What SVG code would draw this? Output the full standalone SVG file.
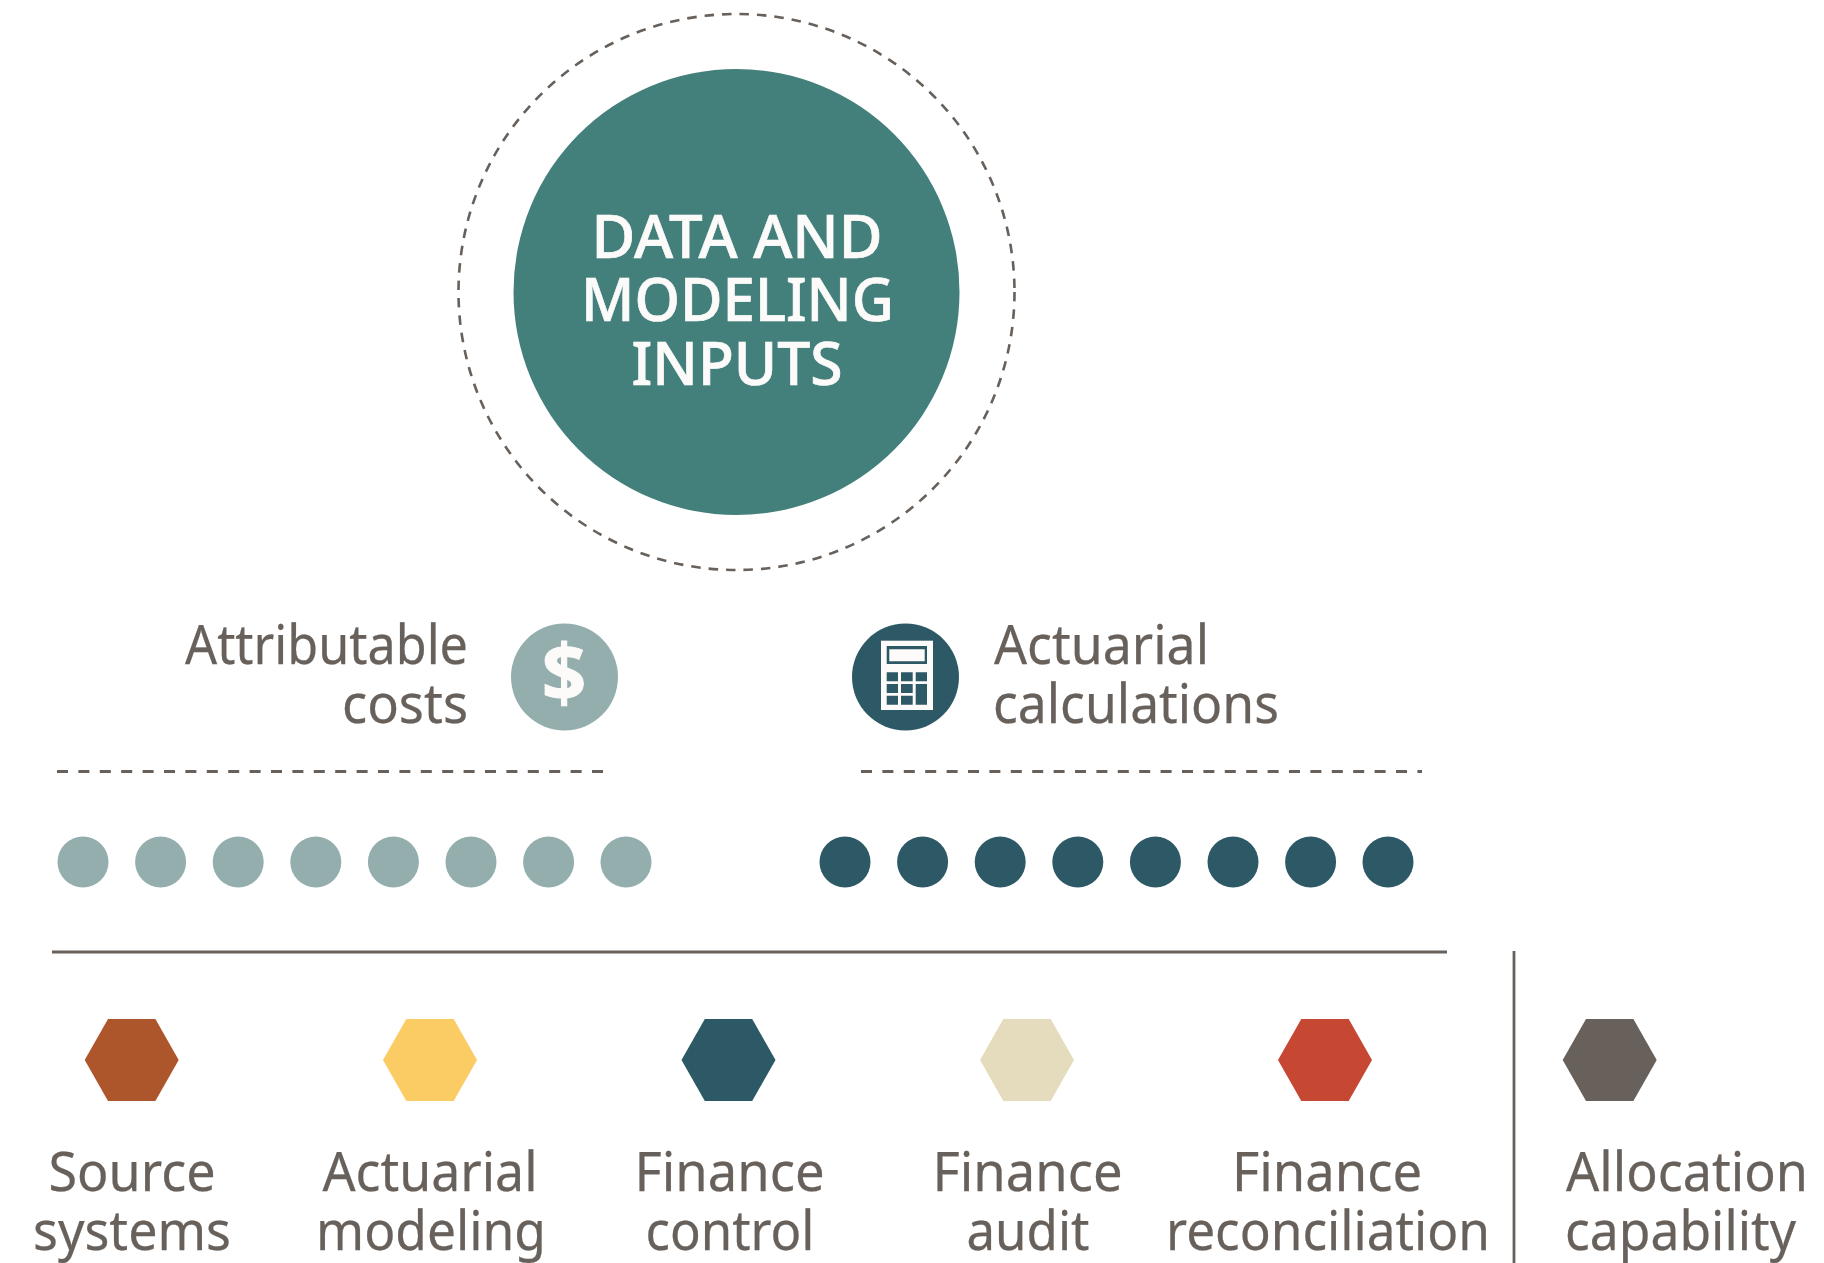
<svg xmlns="http://www.w3.org/2000/svg" width="1824" height="1263" viewBox="0 0 1824 1263">
<style>
text{font-family:"Noto Sans","Open Sans",sans-serif}
.l{font-size:54px;fill:#67605b;stroke:#67605b;stroke-width:.25}
.m{text-anchor:middle}
.e{text-anchor:end}
.t{font-size:60px;fill:#fcfbfa;stroke:#fcfbfa;stroke-width:.7;text-anchor:middle;font-weight:500}
.a{fill:#94aeae}
.b{fill:#2d5967}
.k{fill:#2d5967}
.d{fill:none;stroke:#67605b;stroke-width:3;stroke-dasharray:11 10.4}
.s{fill:none;stroke:#67605b;stroke-width:2.8}
</style>
<rect width="1824" height="1263" fill="#fff"/>
<g id="connectors">
<line class="d" x1="57" y1="771.5" x2="604" y2="771.5"/>
<line class="d" x1="861" y1="771.5" x2="1422" y2="771.5"/>
<line class="s" x1="52" y1="952" x2="1447" y2="952"/>
<line class="s" x1="1514" y1="951" x2="1514" y2="1263"/>
</g>
<g id="main">
<circle cx="736.5" cy="292" r="278" fill="none" stroke="#67605b" stroke-width="2.6" stroke-dasharray="9.5 8"/>
<circle cx="736.5" cy="292" r="223" fill="#43807c"/>
<text class="t" x="737" y="257.5" textLength="291" lengthAdjust="spacingAndGlyphs">DATA AND</text>
<text class="t" x="737.5" y="321" textLength="313" lengthAdjust="spacingAndGlyphs">MODELING</text>
<text class="t" x="737" y="385" textLength="211" lengthAdjust="spacingAndGlyphs">INPUTS</text>
</g>
<g id="attributable-costs">
<text class="l e" x="468" y="664" textLength="283" lengthAdjust="spacingAndGlyphs">Attributable</text>
<text class="l e" x="468" y="723" textLength="126" lengthAdjust="spacingAndGlyphs">costs</text>
<circle class="a" cx="564.5" cy="677" r="53.5"/>
<text x="564" y="701" font-size="78" font-weight="700" stroke="#fcfbfa" stroke-width="1" text-anchor="middle" fill="#fcfbfa" style="font-family:'Open Sans',sans-serif">$</text>
</g>
<g id="actuarial-calculations">
<circle class="b" cx="905.5" cy="677" r="53.5"/>
<rect x="881" y="640.7" width="52" height="69.3" fill="#fcfbfa"/>
<path class="k" fill-rule="evenodd" d="M886.7 646H927V664H886.7ZM889.3 649.3V661.3H924.7V649.3Z"/>
<path class="k" d="M886.7 672.3h11.3v9h-11.3zM901 672.3h11.7v9H901zM915.7 672.3H927v9h-11.3zM886.7 684h11.3v9h-11.3zM901 684h11.7v9H901zM915.7 684H927v20.7h-11.3zM886.7 695.7h11.3v9h-11.3zM901 695.7h11.7v9H901z"/>
<text class="l" x="994" y="664" textLength="215" lengthAdjust="spacingAndGlyphs">Actuarial</text>
<text class="l" x="993" y="723" textLength="286" lengthAdjust="spacingAndGlyphs">calculations</text>
</g>
<g id="teal-dots" class="a">
<circle cx="83" cy="862" r="25.5"/><circle cx="160.6" cy="862" r="25.5"/><circle cx="238.2" cy="862" r="25.5"/><circle cx="315.8" cy="862" r="25.5"/><circle cx="393.4" cy="862" r="25.5"/><circle cx="471" cy="862" r="25.5"/><circle cx="548.6" cy="862" r="25.5"/><circle cx="626" cy="862" r="25.5"/>
</g>
<g id="dark-dots" class="b">
<circle cx="845" cy="862" r="25.5"/><circle cx="922.6" cy="862" r="25.5"/><circle cx="1000.2" cy="862" r="25.5"/><circle cx="1077.8" cy="862" r="25.5"/><circle cx="1155.4" cy="862" r="25.5"/><circle cx="1233" cy="862" r="25.5"/><circle cx="1310.6" cy="862" r="25.5"/><circle cx="1388" cy="862" r="25.5"/>
</g>
<defs><polygon id="hex" points="-47,0 -23.7,-41 23.7,-41 47,0 23.7,41 -23.7,41"/></defs>
<g id="source-systems"><use href="#hex" x="131.7" y="1060" fill="#ad562c"/><text class="l m" x="132" y="1191" textLength="167" lengthAdjust="spacingAndGlyphs">Source</text><text class="l m" x="132" y="1250" textLength="198" lengthAdjust="spacingAndGlyphs">systems</text></g>
<g id="actuarial-modeling"><use href="#hex" x="430" y="1060" fill="#fbcc64"/><text class="l m" x="430" y="1191" textLength="215" lengthAdjust="spacingAndGlyphs">Actuarial</text><text class="l m" x="431" y="1250" textLength="230" lengthAdjust="spacingAndGlyphs">modeling</text></g>
<g id="finance-control"><use href="#hex" x="728.5" y="1060" fill="#2d5967"/><text class="l m" x="729.5" y="1191" textLength="190" lengthAdjust="spacingAndGlyphs">Finance</text><text class="l m" x="730" y="1250" textLength="169" lengthAdjust="spacingAndGlyphs">control</text></g>
<g id="finance-audit"><use href="#hex" x="1027" y="1060" fill="#e5dcbd"/><text class="l m" x="1027.5" y="1191" textLength="190" lengthAdjust="spacingAndGlyphs">Finance</text><text class="l m" x="1028" y="1250" textLength="123" lengthAdjust="spacingAndGlyphs">audit</text></g>
<g id="finance-reconciliation"><use href="#hex" x="1325" y="1060" fill="#c64833"/><text class="l m" x="1327" y="1191" textLength="190" lengthAdjust="spacingAndGlyphs">Finance</text><text class="l m" x="1328" y="1250" textLength="324" lengthAdjust="spacingAndGlyphs">reconciliation</text></g>
<g id="allocation-capability"><use href="#hex" x="1609.7" y="1060" fill="#67605b"/><text class="l" x="1566" y="1191" textLength="242" lengthAdjust="spacingAndGlyphs">Allocation</text><text class="l" x="1565" y="1250" textLength="231" lengthAdjust="spacingAndGlyphs">capability</text></g>
</svg>
